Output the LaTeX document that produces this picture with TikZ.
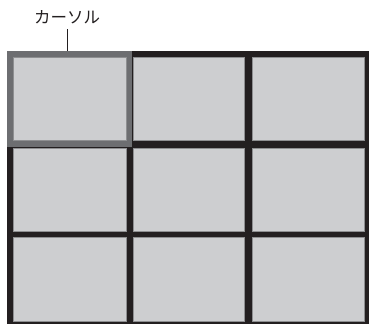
\documentclass[tikz,border=0pt]{standalone}
\usepackage{fontspec}
\newfontfamily\cjk{Noto Sans CJK JP}
\definecolor{frameblack}{HTML}{231F20}
\definecolor{cursorgray}{HTML}{6D6E71}
\definecolor{cellfill}{HTML}{CDCED0}
\definecolor{cellline}{HTML}{8E8F91}
\begin{document}
\begin{tikzpicture}[x=1pt,y=-1pt,
  cell/.style={draw=cellline, line width=0.8pt, fill=cellfill, anchor=north west, inner sep=0pt, outer sep=0pt},
  block/.style={anchor=north west, inner sep=0pt, outer sep=0pt, draw=none}]
\useasboundingbox (0,0) rectangle (369,324);
\node[block, fill=frameblack, minimum width=362pt, minimum height=273pt] (frame) at (7,51) {};
\node[block, fill=cursorgray, minimum width=125pt, minimum height=96pt] (cursor) at (7,51) {};
% row 1
\node[cell, minimum width=113pt, minimum height=83pt] (c11) at (13,57) {};
\node[cell, minimum width=111pt, minimum height=83pt] (c12) at (133,57) {};
\node[cell, minimum width=112pt, minimum height=83pt] (c13) at (252,57) {};
% row 2
\node[cell, minimum width=113pt, minimum height=83pt] (c21) at (13,148) {};
\node[cell, minimum width=111pt, minimum height=83pt] (c22) at (133,148) {};
\node[cell, minimum width=112pt, minimum height=83pt] (c23) at (252,148) {};
% row 3
\node[cell, minimum width=113pt, minimum height=84pt] (c31) at (13,237) {};
\node[cell, minimum width=111pt, minimum height=84pt] (c32) at (133,237) {};
\node[cell, minimum width=112pt, minimum height=84pt] (c33) at (252,237) {};
% label
\node[font=\cjk\fontsize{16.5}{18}\selectfont, text=frameblack, inner sep=1pt] (lbl) at (67,17) {カーソル};
\coordinate (lead) at (67,29);
\draw[frameblack, line width=0.9pt] (lead) -- (lead |- cursor.north);
\end{tikzpicture}
\end{document}
